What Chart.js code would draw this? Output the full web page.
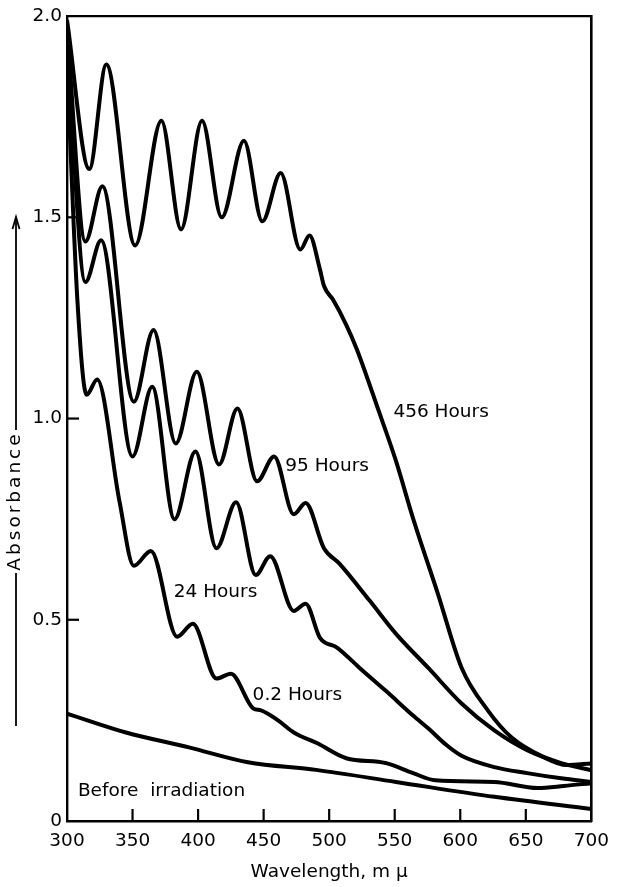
<!DOCTYPE html>
<html><head><meta charset="utf-8">
<script src="https://cdn.jsdelivr.net/npm/chart.js@4.4.1/dist/chart.umd.min.js"></script>
<style>html,body{margin:0;padding:0;background:#fff}#wrap{width:618px;height:887px;position:relative}</style>
</head><body><div id="wrap"><canvas id="c" width="618" height="887"></canvas></div>
<script>
// ---- data (wavelength in mμ, absorbance) ----
const h456_nm  = [300, 317, 330, 352, 372, 387, 403, 418, 435, 449, 463, 478, 485, 493, 496, 503, 513, 521, 538, 551, 564, 583, 601, 621, 639, 664, 681, 700];
const h456_abs = [1.99, 1.62, 1.88, 1.43, 1.74, 1.47, 1.74, 1.50, 1.69, 1.49, 1.61, 1.42, 1.455, 1.37, 1.33, 1.295, 1.233, 1.173, 1.017, 0.894, 0.752, 0.564, 0.381, 0.275, 0.208, 0.158, 0.139, 0.143];

const h95_nm  = [300, 314, 327, 351, 366, 383, 399, 416, 430, 445, 458, 473, 482, 496, 508, 531, 551, 576, 601, 626, 651, 677, 700];
const h95_abs = [1.97, 1.44, 1.577, 1.042, 1.22, 0.938, 1.116, 0.886, 1.025, 0.844, 0.906, 0.762, 0.79, 0.678, 0.639, 0.547, 0.465, 0.379, 0.292, 0.225, 0.176, 0.144, 0.126];

const h24_nm  = [300, 314, 326, 350, 365, 382, 398, 414, 429, 444, 455, 473, 482, 493, 506, 523, 543, 564, 577, 589, 601, 626, 651, 677, 700];
const h24_abs = [1.93, 1.339, 1.443, 0.906, 1.079, 0.750, 0.918, 0.678, 0.792, 0.611, 0.658, 0.522, 0.540, 0.455, 0.431, 0.381, 0.324, 0.262, 0.226, 0.190, 0.162, 0.134, 0.119, 0.106, 0.097];

const h02_nm  = [300, 308, 315, 323, 340, 351, 364, 384, 396, 414, 425, 442, 448, 461, 473, 491, 513, 543, 564, 581, 626, 659, 679, 700];
const h02_abs = [1.88, 1.29, 1.059, 1.097, 0.795, 0.634, 0.671, 0.458, 0.490, 0.354, 0.366, 0.280, 0.275, 0.250, 0.220, 0.193, 0.156, 0.144, 0.119, 0.101, 0.097, 0.082, 0.087, 0.094];

const before_nm  = [300, 345, 393, 438, 490, 551, 626, 700];
const before_abs = [0.267, 0.220, 0.183, 0.146, 0.127, 0.097, 0.060, 0.030];

// curve labels (anchored in data units)
const labelTexts = ['456 Hours', '95 Hours', '24 Hours', '0.2 Hours', 'Before  irradiation'];
const labelNm    = [549, 466.5, 381.4, 441.6, 308.3];
const labelAbs   = [1.017, 0.881, 0.569, 0.312, 0.074];

const xTicks = [300, 350, 400, 450, 500, 550, 600, 650, 700];
const yTicks = [0, 0.5, 1.0, 1.5, 2.0];

const FONT = "'DejaVu Sans', sans-serif";
const INK = '#000';

function pts(xs, ys) { return xs.map((x, i) => ({x: x, y: ys[i]})); }
function ds(xs, ys) {
  return { data: pts(xs, ys), borderColor: '#000', borderWidth: 4, pointRadius: 0,
           fill: false, cubicInterpolationMode: 'monotone' };
}

const decor = {
  id: 'decor',
  afterDatasetsDraw(chart) {
    const ctx = chart.ctx, xs = chart.scales.x, ys = chart.scales.y, ca = chart.chartArea;
    ctx.save();
    // inward tick marks
    ctx.strokeStyle = '#000'; ctx.lineWidth = 2.2;
    xTicks.forEach(v => {
      if (v <= xs.min || v >= xs.max) return;
      const p = xs.getPixelForValue(v);
      ctx.beginPath(); ctx.moveTo(p, ca.bottom); ctx.lineTo(p, ca.bottom - 12); ctx.stroke();
    });
    yTicks.forEach(v => {
      if (v <= ys.min || v >= ys.max) return;
      const p = ys.getPixelForValue(v);
      ctx.beginPath(); ctx.moveTo(ca.left, p); ctx.lineTo(ca.left + 12, p); ctx.stroke();
    });
    // curve labels
    ctx.fillStyle = INK; ctx.font = '18.5px ' + FONT;
    ctx.textAlign = 'left'; ctx.textBaseline = 'middle';
    labelTexts.forEach((t, i) => {
      ctx.fillText(t, xs.getPixelForValue(labelNm[i]), ys.getPixelForValue(labelAbs[i]));
    });
    // y-axis title with arrow
    const tx = 15, tcy = 501;
    ctx.save();
    ctx.translate(tx, tcy); ctx.rotate(-Math.PI / 2);
    ctx.font = '18.5px ' + FONT;
    try { ctx.letterSpacing = '3px'; } catch (e) {}
    ctx.textAlign = 'center'; ctx.textBaseline = 'middle';
    ctx.fillText('Absorbance', 0, 0);
    ctx.restore();
    ctx.lineWidth = 1.8; ctx.strokeStyle = '#000';
    ctx.beginPath(); ctx.moveTo(16, 726); ctx.lineTo(16, 573); ctx.stroke();
    ctx.beginPath(); ctx.moveTo(16, 430); ctx.lineTo(16, 219); ctx.stroke();
    ctx.beginPath(); ctx.moveTo(12.5, 229); ctx.lineTo(16, 217); ctx.lineTo(19.5, 229); ctx.stroke();
    ctx.restore();
  }
};

new Chart(document.getElementById('c'), {
  type: 'line',
  data: { datasets: [ds(h456_nm, h456_abs), ds(h95_nm, h95_abs), ds(h24_nm, h24_abs), ds(h02_nm, h02_abs), ds(before_nm, before_abs)] },
  options: {
    responsive: false, animation: false, devicePixelRatio: 1,
    layout: { padding: { left: 0, top: 13, right: 21, bottom: 0 } },
    plugins: { legend: { display: false }, tooltip: { enabled: false } },
    scales: {
      x: { type: 'linear', position: 'bottom', min: 300, max: 700,
           afterBuildTicks: s => { s.ticks = xTicks.map(v => ({value: v})); },
           ticks: { font: { family: FONT, size: 18.5 }, color: INK, padding: 9, maxRotation: 0, autoSkip: false },
           grid: { display: false, drawTicks: false },
           border: { display: true, color: '#000', width: 2.4 },
           title: { display: true, text: 'Wavelength, m μ', font: { family: FONT, size: 18.5 }, color: INK, padding: { top: 0, bottom: 4 } },
           afterFit: s => { s.height = 66; } },
      x2: { type: 'linear', position: 'top', min: 300, max: 700, ticks: { display: false },
            grid: { display: false, drawTicks: false }, border: { display: true, color: '#000', width: 2.2 },
            afterFit: s => { s.height = 0; } },
      y: { type: 'linear', position: 'left', min: 0, max: 2,
           afterBuildTicks: s => { s.ticks = yTicks.map(v => ({value: v})); },
           ticks: { font: { family: FONT, size: 18.5 }, color: INK, padding: 5,
                    callback: v => v === 0 ? '0' : Number(v).toFixed(1) },
           grid: { display: false, drawTicks: false },
           border: { display: true, color: '#000', width: 2.4 },
           afterFit: s => { s.width = 67; } },
      y2: { type: 'linear', position: 'right', min: 0, max: 2, ticks: { display: false },
            grid: { display: false, drawTicks: false }, border: { display: true, color: '#000', width: 2.6 },
            afterFit: s => { s.width = 0; } }
    }
  },
  plugins: [decor]
});
</script></body></html>
